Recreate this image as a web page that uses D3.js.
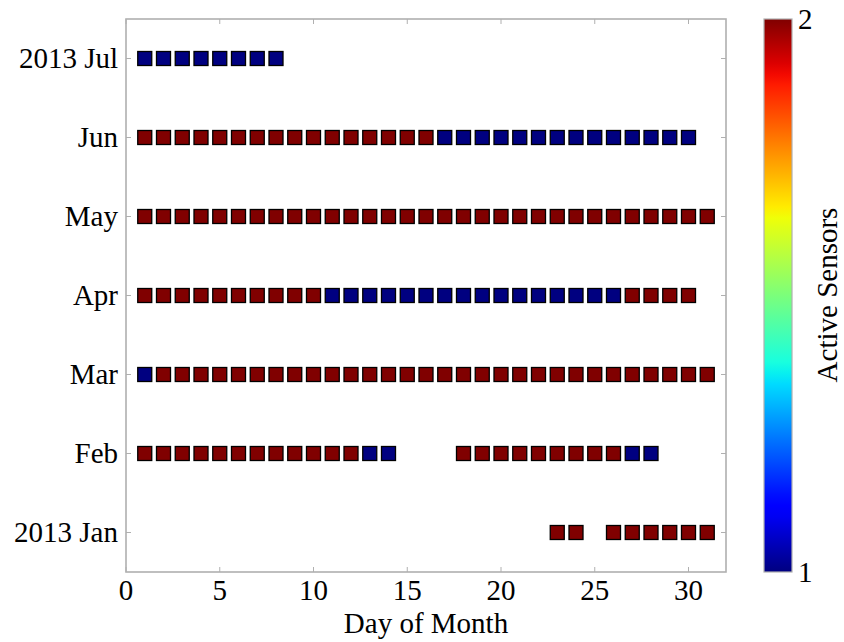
<!DOCTYPE html>
<html><head><meta charset="utf-8">
<script src="https://cdn.jsdelivr.net/npm/d3@7"></script>
<style>body{margin:0;background:#fff}text{font-family:"Liberation Serif","Times New Roman",serif;fill:#000}</style>
</head><body><svg id="c" width="844" height="642"></svg>
<script>
const months = ["2013 Jan","Feb","Mar","Apr","May","Jun","2013 Jul"];
const xTicks = [0,5,10,15,20,25,30];
// per-month: days recorded and active-sensor value per day
const janDays = [23,24,26,27,28,29,30,31];
const janVals = [2,2,2,2,2,2,2,2];
const febDays = [1,2,3,4,5,6,7,8,9,10,11,12,13,14,18,19,20,21,22,23,24,25,26,27,28];
const febVals = [2,2,2,2,2,2,2,2,2,2,2,2,1,1,2,2,2,2,2,2,2,2,2,1,1];
const marDays = d3.range(1,32);
const marVals = [1,2,2,2,2,2,2,2,2,2,2,2,2,2,2,2,2,2,2,2,2,2,2,2,2,2,2,2,2,2,2];
const aprDays = d3.range(1,31);
const aprVals = [2,2,2,2,2,2,2,2,2,2,1,1,1,1,1,1,1,1,1,1,1,1,1,1,1,1,2,2,2,2];
const mayDays = d3.range(1,32);
const mayVals = [2,2,2,2,2,2,2,2,2,2,2,2,2,2,2,2,2,2,2,2,2,2,2,2,2,2,2,2,2,2,2];
const junDays = d3.range(1,31);
const junVals = [2,2,2,2,2,2,2,2,2,2,2,2,2,2,2,2,1,1,1,1,1,1,1,1,1,1,1,1,1,1];
const julDays = [1,2,3,4,5,6,7,8];
const julVals = [1,1,1,1,1,1,1,1];
const colorTicks = [1,2];

const rows = [[janDays,janVals],[febDays,febVals],[marDays,marVals],[aprDays,aprVals],[mayDays,mayVals],[junDays,junVals],[julDays,julVals]];
const pts = [];
rows.forEach((r,i)=>r[0].forEach((d,j)=>pts.push({m:i,d:d,v:r[1][j]})));

function jet(t){
  const f=(pts)=>{for(let k=1;k<pts.length;k++){if(t<=pts[k][0]){const a=pts[k-1],b=pts[k];return a[1]+(b[1]-a[1])*(t-a[0])/(b[0]-a[0]);}}return pts[pts.length-1][1];};
  const r=f([[0,0],[0.35,0],[0.66,1],[0.89,1],[1,0.5]]);
  const g=f([[0,0],[0.125,0],[0.375,1],[0.64,1],[0.91,0],[1,0]]);
  const b=f([[0,0.5],[0.11,1],[0.34,1],[0.65,0],[1,0]]);
  return d3.rgb(r*255,g*255,b*255).formatHex();
}

const svg=d3.select("#c");
const L=126,R=726,T=19,B=572;
const FS=29;
const x=d3.scaleLinear().domain([0,32]).range([L,R]);
const y=d3.scaleLinear().domain([-0.5,6.5]).range([B,T]);
const cval=d3.scaleLinear().domain([1,2]).range([0,1]);
const frame="#b0b0b0";

const g=svg.append("g");
xTicks.forEach(t=>{
  g.append("line").attr("x1",x(t)).attr("x2",x(t)).attr("y1",B).attr("y2",B-5).attr("stroke",frame);
  g.append("line").attr("x1",x(t)).attr("x2",x(t)).attr("y1",T).attr("y2",T+5).attr("stroke",frame);
  g.append("text").attr("x",x(t)).attr("y",600).attr("text-anchor","middle").attr("font-size",FS).text(t);
});
months.forEach((m,i)=>{
  g.append("line").attr("x1",L).attr("x2",L+5).attr("y1",y(i)).attr("y2",y(i)).attr("stroke",frame);
  g.append("line").attr("x1",R).attr("x2",R-5).attr("y1",y(i)).attr("y2",y(i)).attr("stroke",frame);
  g.append("text").attr("x",118).attr("y",y(i)).attr("dy","0.34em").attr("text-anchor","end").attr("font-size",FS).text(m);
});

const s=14;
svg.append("g").selectAll("rect").data(pts).join("rect")
  .attr("x",d=>x(d.d)-s/2).attr("y",d=>y(d.m)-s/2).attr("width",s).attr("height",s)
  .attr("fill",d=>jet(cval(d.v))).attr("stroke","#000").attr("stroke-width",1.3);

svg.append("rect").attr("x",L).attr("y",T).attr("width",R-L).attr("height",B-T)
  .attr("fill","none").attr("stroke",frame).attr("stroke-width",1.6);

svg.append("text").attr("x",(L+R)/2).attr("y",633).attr("text-anchor","middle").attr("font-size",FS).text("Day of Month");

const defs=svg.append("defs");
const grad=defs.append("linearGradient").attr("id","jet").attr("x1",0).attr("x2",0).attr("y1",1).attr("y2",0);
d3.range(0,1.0001,0.02).forEach(t=>grad.append("stop").attr("offset",t).attr("stop-color",jet(t)));
const cy=d3.scaleLinear().domain([1,2]).range([B,T]);
svg.append("rect").attr("x",764).attr("y",T).attr("width",28).attr("height",B-T)
  .attr("fill","url(#jet)").attr("stroke",frame).attr("stroke-width",1.2);
colorTicks.forEach(t=>{
  svg.append("text").attr("x",798).attr("y",cy(t)).attr("dy","0.36em").attr("font-size",FS).text(t);
});
svg.append("text").attr("transform","translate(837,295) rotate(-90)").attr("text-anchor","middle").attr("font-size",FS).text("Active Sensors");
</script></body></html>
